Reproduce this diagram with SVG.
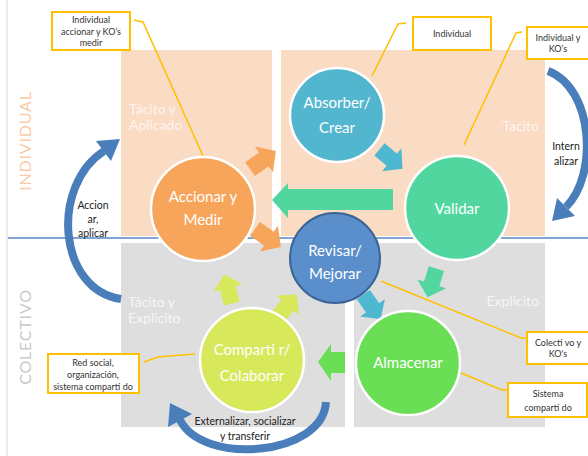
<svg xmlns="http://www.w3.org/2000/svg" xmlns:xlink="http://www.w3.org/1999/xlink" width="588" height="456" viewBox="0 0 588 456">
<style>
.peach{fill:#FADBC4}
.gray{fill:#DEDEDE}
.circ{stroke:#FFFFFF;stroke-width:2.5}
.ct{font-family:Lato,"Liberation Sans",sans-serif;font-size:15px;fill:#FFFFFF;text-anchor:middle}
.pt{font-family:Lato,"Liberation Sans",sans-serif;font-size:14px;fill:#FFFFFF;fill-opacity:0.75}
.box{fill:#FFFFFF;stroke:#FFC000;stroke-width:2}
.lead{fill:none;stroke:#FFC000;stroke-width:1.5}
.bt{font-family:Lato,"Liberation Sans",sans-serif;font-size:9px;fill:#333333;text-anchor:middle}
.at{font-family:Lato,"Liberation Sans",sans-serif;font-size:10.5px;fill:#222222;text-anchor:middle}
.band{fill:none;stroke:#4A7EBB;stroke-width:8}
.head{fill:#4A7EBB}
.side{font-family:Lato,"Liberation Sans",sans-serif;font-size:16px;letter-spacing:0.8px;text-anchor:middle}
</style>
<defs>
<polygon id="blk" points="-15,-8 1,-8 1,-15 15,0 1,15 1,8 -15,8"/>
</defs>

<g id="background">
<line x1="7" y1="0" x2="7" y2="456" stroke="#E4E4E4" stroke-width="1.5"/>
<rect class="peach" x="121" y="50" width="151" height="186"/>
<rect class="peach" x="281" y="50" width="264" height="186"/>
<rect class="gray" x="121" y="243" width="224" height="184"/>
<rect class="gray" x="354" y="243" width="191" height="184"/>
<line x1="8" y1="238" x2="588" y2="238" stroke="#7FA6D4" stroke-width="2"/>
<text class="side" fill="#F9CBA8" transform="translate(31,141) rotate(-90)">INDIVIDUAL</text>
<text class="side" fill="#CACACA" transform="translate(31,337) rotate(-90)">COLECTIVO</text>
<text class="pt" x="129" y="114">Tácito y</text>
<text class="pt" x="129" y="130">Aplicado</text>
<text class="pt" x="539" y="131" text-anchor="end">Tacito</text>
<text class="pt" x="128" y="307">Tácito y</text>
<text class="pt" x="128" y="323">Explicito</text>
<text class="pt" x="539" y="306" text-anchor="end">Explicito</text>
</g>

<g id="connectors">
<!-- curved arrows -->
<path class="band" d="M121,299 C58,290 50,186 104,151"/>
<polygon class="head" points="120,139 111,161 96,141"/>
<path class="band" d="M548,71 C594,88 598,176 566,207"/>
<polygon class="head" points="552,221 575,216 557,198"/>
<path class="band" d="M326,402 C323,456 203,466 180,420"/>
<polygon class="head" points="170,403 192,414 168,427"/>
<!-- block arrows -->
<use xlink:href="#blk" href="#blk" fill="#F6A55A" transform="translate(263,160) rotate(-35) scale(1.05)"/>
<use xlink:href="#blk" href="#blk" fill="#F6A55A" transform="translate(268,238) rotate(35) scale(1.05)"/>
<use xlink:href="#blk" href="#blk" fill="#4DB8D0" transform="translate(391,159) rotate(40)"/>
<polygon fill="#52D6A0" points="393,189 288,189 288,183 272,200 288,218 288,210 393,210"/>
<use xlink:href="#blk" href="#blk" fill="#52D6A0" transform="translate(432,283) rotate(107)"/>
<use xlink:href="#blk" href="#blk" fill="#4DB8D0" transform="translate(372,307) rotate(55)"/>
<polygon fill="#6ADE55" points="345,352 331,352 331,344 318,362 331,381 331,373 345,373"/>
<use xlink:href="#blk" href="#blk" fill="#D7E85A" transform="translate(228,289) rotate(-105)"/>
<use xlink:href="#blk" href="#blk" fill="#D7E85A" transform="translate(287,306) rotate(-50)"/>
<!-- leader lines -->
<polyline class="lead" points="134,20 143,22 203,156"/>
<polyline class="lead" points="406,23 398,24 372,76"/>
<polyline class="lead" points="522,32 516,33 464,145"/>
<polyline class="lead" points="144,362 158,357 195,354"/>
<polyline class="lead" points="381,281 521,338 527,338"/>
<polyline class="lead" points="461,373 502,390 508,390"/>
</g>

<g id="absorber">
<circle class="circ" cx="337" cy="115" r="47" fill="#53B6CF"/>
<text class="ct" x="337" y="108">Absorber/</text>
<text class="ct" x="337" y="133">Crear</text>
</g>
<g id="validar">
<circle class="circ" cx="457" cy="208" r="52" fill="#52D6A0"/>
<text class="ct" x="457" y="214">Validar</text>
</g>
<g id="accionar">
<circle class="circ" cx="203" cy="209" r="52" fill="#F6A55A"/>
<text class="ct" x="203" y="202">Accionar y</text>
<text class="ct" x="203" y="225">Medir</text>
</g>
<g id="revisar">
<circle cx="335" cy="258" r="45" fill="#5A8FCB" stroke="#3C6597" stroke-width="2"/>
<text class="ct" x="335" y="256">Revisar/</text>
<text class="ct" x="335" y="279">Mejorar</text>
</g>
<g id="almacenar">
<circle class="circ" cx="408" cy="363" r="52" fill="#6ADE55"/>
<text class="ct" x="408" y="368">Almacenar</text>
</g>
<g id="compartir">
<circle class="circ" cx="252" cy="360" r="52" fill="#D7E85A"/>
<text class="ct" x="252" y="355">Comparti r/</text>
<text class="ct" x="252" y="381">Colaborar</text>
</g>

<g id="label-accionar-aplicar">
<text class="at" x="93" y="209">Accion</text>
<text class="at" x="93" y="223">ar,</text>
<text class="at" x="93" y="237">aplicar</text>
</g>
<g id="label-internalizar">
<text class="at" x="566" y="150">Intern</text>
<text class="at" x="566" y="165">alizar</text>
</g>
<g id="label-externalizar">
<text class="at" x="245" y="425">Externalizar, socializar</text>
<text class="at" x="245" y="440">y transferir</text>
</g>

<g id="callout-1">
<rect class="box" x="52" y="12" width="78" height="38"/>
<text class="bt" x="91" y="23">Individual</text>
<text class="bt" x="91" y="35">accionar y KO’s</text>
<text class="bt" x="91" y="46">medir</text>
</g>
<g id="callout-2">
<rect class="box" x="413" y="17" width="78" height="33"/>
<text class="bt" x="452" y="37">Individual</text>
</g>
<g id="callout-3">
<rect class="box" x="527" y="27" width="64" height="32"/>
<text class="bt" x="558" y="41">Individual y</text>
<text class="bt" x="558" y="52">KO’s</text>
</g>
<g id="callout-4">
<rect class="box" x="48" y="354" width="91" height="39"/>
<text class="bt" x="93" y="366">Red social,</text>
<text class="bt" x="93" y="378">organización,</text>
<text class="bt" x="93" y="390">sistema comparti  do</text>
</g>
<g id="callout-5">
<rect class="box" x="527" y="332" width="64" height="32"/>
<text class="bt" x="558" y="346">Colecti  vo y</text>
<text class="bt" x="558" y="357">KO's</text>
</g>
<g id="callout-6">
<rect class="box" x="508" y="383" width="79" height="34"/>
<text class="bt" x="548" y="397">Sistema</text>
<text class="bt" x="548" y="411">comparti  do</text>
</g>
</svg>
